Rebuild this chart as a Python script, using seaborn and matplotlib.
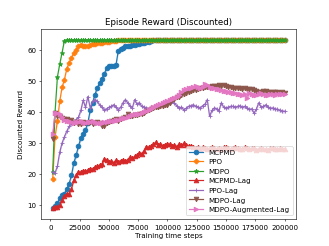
import numpy as np
import pandas as pd
import matplotlib
matplotlib.use("Agg")
import matplotlib.pyplot as plt
import seaborn as sns

steps = np.arange(1, 101) * 2000

mcpmd = [9.0, 9.5, 10.5, 12.0, 13.0, 13.6, 15.0, 16.8, 19.5, 23.5,
         26.0, 29.0, 31.5, 33.0, 34.2, 36.5, 40.5, 43.0, 45.5, 47.8,
         49.3, 50.8, 52.3, 54.2, 54.8, 55.0, 55.0, 55.2, 59.8, 60.5,
         60.8, 61.2, 61.3, 61.5, 61.7, 61.8, 62.0, 62.1, 62.3, 62.4,
         62.6, 62.8, 63.0] + [63.2] * 56 + [63.3]

ppo = [18.2, 32.0, 37.0, 43.5, 48.0, 50.5, 54.0, 56.0, 57.6, 59.0,
       60.2, 61.2, 61.7, 61.5, 61.4, 61.5, 61.8, 62.0, 62.0, 62.2,
       62.3, 62.4, 62.5, 62.7, 62.8, 62.9, 63.0, 63.1] + [63.2] * 71 + [63.3]

mdpo = [20.7, 40.0, 51.3, 55.5, 59.2, 63.1] + [63.3] * 94

mcpmd_lag = [9.0, 9.1, 9.3, 9.8, 11.5, 12.8, 13.3, 13.6, 15.0, 18.0,
             19.5, 20.6, 20.5, 21.0, 20.8, 21.2, 21.7, 21.5, 22.2, 22.4,
             22.8, 23.0, 24.8, 24.5, 23.8, 24.0, 23.6, 24.3, 23.9, 24.2,
             24.5, 24.0, 24.6, 25.3, 25.0, 25.6, 26.0, 26.8, 26.5, 27.4,
             28.8, 28.5, 29.0, 29.5, 30.2, 29.3, 29.6, 29.1, 29.4, 29.7,
             29.5, 29.0, 29.3, 28.8, 29.6, 29.2, 29.8, 29.4, 28.9, 29.1,
             28.6, 28.3, 28.5, 28.1, 28.6, 28.4, 28.0, 28.3, 28.6, 28.2,
             28.1, 28.4, 28.0, 28.5, 28.7, 28.3, 28.1, 28.4, 28.6, 28.2,
             27.9, 28.1, 28.5, 28.3, 28.0, 28.2, 28.4, 27.8, 28.1, 28.3,
             27.9, 28.0, 27.8, 28.2, 28.4, 28.0, 27.9, 28.2, 28.0, 28.1]

ppo_lag = [20.5, 20.3, 22.5, 27.0, 30.0, 32.0, 33.8, 35.3, 36.3, 37.0,
           37.5, 38.3, 40.5, 43.8, 41.5, 45.0, 41.3, 43.4, 44.0, 43.5,
           42.3, 41.5, 40.7, 41.0, 41.5, 41.8, 42.3, 41.5, 40.7, 41.5,
           43.0, 44.0, 43.0, 42.0, 41.3, 44.0, 42.5, 43.0, 41.8, 41.5,
           41.3, 41.0, 41.5, 41.3, 41.8, 42.0, 41.8, 42.3, 42.5, 42.8,
           43.0, 43.4, 42.8, 42.0, 41.3, 41.5, 40.7, 41.2, 41.8, 42.0,
           42.3, 41.8, 41.5, 41.3, 42.0, 42.5, 44.0, 38.6, 40.5, 41.3,
           41.0, 40.4, 43.0, 41.5, 41.3, 41.5, 41.8, 41.8, 41.5, 41.8,
           42.0, 41.5, 41.8, 41.3, 40.8, 41.0, 39.6, 41.0, 43.0, 41.5,
           41.8, 42.3, 41.5, 41.2, 41.3, 41.0, 40.8, 40.5, 40.3, 40.2]

mdpo_lag = [31.3, 39.7, 38.8, 38.6, 38.1, 37.6, 37.8, 37.0, 37.3, 36.5,
            36.8, 36.2, 36.0, 36.6, 36.3, 36.5, 36.8, 36.2, 36.5, 36.7,
            36.3, 35.6, 35.5, 36.3, 36.8, 37.0, 37.4, 37.6, 37.2, 37.8,
            38.1, 38.5, 39.2, 38.8, 38.6, 38.9, 39.0, 39.2, 39.5, 39.8,
            40.2, 40.5, 40.9, 41.3, 41.5, 41.6, 41.8, 42.0, 42.2, 42.3,
            43.0, 44.0, 44.3, 44.7, 45.0, 45.4, 45.7, 46.0, 46.4, 46.7,
            47.0, 47.2, 47.5, 47.6, 47.8, 48.0, 48.1, 48.2, 48.3, 48.4,
            48.5, 48.6, 48.4, 48.6, 48.4, 48.2, 48.0, 47.9, 47.7, 47.6,
            47.6, 47.5, 47.6, 47.4, 47.3, 47.3, 47.0, 46.7, 46.5, 46.6,
            46.8, 46.8, 46.6, 46.5, 46.4, 46.5, 46.3, 46.2, 46.3, 46.2]

mdpo_aug_lag = [32.8, 39.7, 39.6, 39.5, 38.5, 37.5, 37.2, 37.0, 36.8, 36.5,
                36.7, 36.9, 37.0, 36.7, 36.5, 36.6, 36.9, 37.0, 36.8, 36.5,
                36.3, 36.4, 36.6, 36.8, 37.0, 37.0, 37.1, 37.3, 37.5, 37.8,
                38.1, 38.2, 38.4, 38.6, 38.9, 39.2, 39.3, 39.5, 39.7, 40.0,
                40.4, 40.7, 41.1, 41.5, 41.8, 42.1, 42.5, 42.8, 43.2, 43.6,
                44.0, 44.3, 44.6, 45.0, 45.6, 46.3, 47.0, 47.3, 47.6, 47.9,
                48.1, 48.4, 48.0, 47.6, 48.2, 49.2, 48.6, 48.1, 47.9, 47.6,
                47.5, 47.3, 47.0, 46.8, 46.7, 46.5, 46.3, 46.2, 46.0, 45.9,
                45.7, 45.5, 45.8, 44.4, 46.0, 45.8, 45.5, 45.6, 45.8, 46.0,
                45.7, 45.5, 45.6, 45.7, 45.8, 45.5, 45.7, 45.8, 45.9, 45.8]

labels = ["MCPMD", "PPO", "MDPO", "MCPMD-Lag", "PPO-Lag", "MDPO-Lag",
          "MDPO-Augmented-Lag"]
series = [mcpmd, ppo, mdpo, mcpmd_lag, ppo_lag, mdpo_lag, mdpo_aug_lag]
band = [0.8, 0.4, 0.2, 0.6, 0.6, 0.7, 0.8]

markers = ["o", "P", "*", "^", "+", "v", ">"]
colors = sns.color_palette("tab10", 7)

fig, ax = plt.subplots(figsize=(6.4, 4.8), dpi=329 / 6.4)
fig.subplots_adjust(left=0.125, right=0.9, bottom=0.11, top=0.88)
for lab, vals, b, m, c in zip(labels, series, band, markers, colors):
    vals = np.asarray(vals, dtype=float)
    df = pd.DataFrame({"step": steps, "reward": vals})
    sns.lineplot(data=df, x="step", y="reward", ax=ax, label=lab, color=c,
                 marker=m, markersize=6.5, markeredgewidth=1.2,
                 markeredgecolor=c, linewidth=1.7)
    ax.fill_between(steps, vals - b, vals + b, color=c, alpha=0.3, lw=0)

ax.set_title("Episode Reward (Discounted)")
ax.set_xlabel("Training time steps")
ax.set_ylabel("Discounted Reward")
ax.set_xticks([0, 25000, 50000, 75000, 100000, 125000, 150000, 175000, 200000])
ax.set_yticks([10, 20, 30, 40, 50, 60])
ax.legend(loc="lower right")
fig.savefig("out.png", dpi=329 / 6.4)
